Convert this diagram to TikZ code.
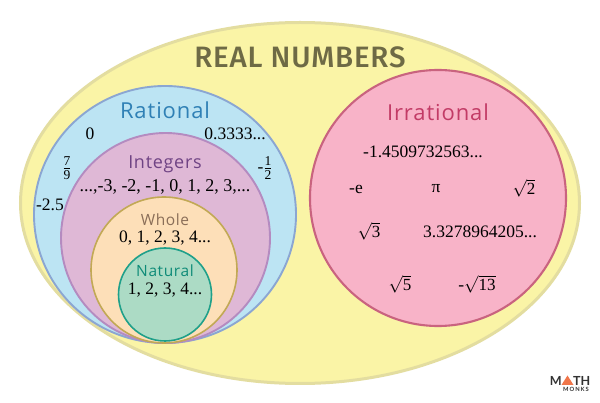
\documentclass[tikz,border=0pt]{standalone}
\usepackage{fontspec}
\setmainfont{Liberation Serif}
\newfontfamily\headfont{Open Sans}[LetterSpace=4]
\newfontfamily\titlefont{Fira Sans Medium}[LetterSpace=2.6]
\newfontfamily\logofont{Lato}
\newcommand{\vals}[1]{\hbox{\fontsize{17}{17}\selectfont #1}}
\newcommand{\fracnum}[1]{\hbox{\fontsize{13.5}{13.5}\selectfont\rule[-1.5pt]{0pt}{0pt}#1}}
\newcommand{\fracden}[1]{\hbox{\fontsize{13.5}{13.5}\selectfont\rule{0pt}{11pt}#1}}
\tikzset{
  x=1pt,y=-1pt,
  setshape/.style={line width=1.6pt},
  outerset/.style={setshape,line width=3pt,draw=outerline,fill=outerfill},
  head/.style={font=\headfont\fontsize{#1}{#1}\selectfont,inner sep=0pt},
  num/.style={font=\fontsize{17.5}{17.5}\selectfont,text=black,inner sep=0pt},
}
\definecolor{outerline}{HTML}{E3DDA0}
\definecolor{outerfill}{HTML}{FAF4A6}
\definecolor{ratline}{HTML}{8BA6D2}
\definecolor{ratfill}{HTML}{BCE4F3}
\definecolor{intline}{HTML}{B48BC0}
\definecolor{intfill}{HTML}{DFB8D6}
\definecolor{wholeline}{HTML}{C2A955}
\definecolor{wholefill}{HTML}{FDDFB8}
\definecolor{natline}{HTML}{1FA08A}
\definecolor{natfill}{HTML}{ACDBC5}
\definecolor{irrline}{HTML}{C9637F}
\definecolor{irrfill}{HTML}{F8B3C8}
\definecolor{titlecol}{HTML}{6E6A45}
\definecolor{ratcol}{HTML}{2F80B5}
\definecolor{intcol}{HTML}{6F4384}
\definecolor{wholecol}{HTML}{8A6E58}
\definecolor{natcol}{HTML}{0E8B78}
\definecolor{irrcol}{HTML}{C23B66}
\definecolor{logoorange}{HTML}{F0764A}
\definecolor{logodark}{HTML}{333333}
\begin{document}
\begin{tikzpicture}
\useasboundingbox (0,0) rectangle (600,403);
\fill[white] (0,0) rectangle (600,403);
\draw[outerset] (300,203) ellipse [x radius=279.5,y radius=180.5];
\draw[setshape,line width=1.9pt,draw=ratline,fill=ratfill] (165,214.5) ellipse [x radius=131,y radius=128.5];
\draw[setshape,line width=1.9pt,draw=intline,fill=intfill] (165.5,238) ellipse [x radius=104.5,y radius=105];
\draw[setshape,draw=wholeline,fill=wholefill] (164,270) ellipse [x radius=73,y radius=73];
\draw[setshape,draw=natline,fill=natfill] (165,294.5) circle [radius=46.5];
\draw[setshape,line width=2.1pt,draw=irrline,fill=irrfill] (438,198) circle [radius=128];

\node[inner sep=0pt,text=titlecol,font=\titlefont\fontsize{29.5}{29.5}\selectfont] (title) at (300,57) {REAL NUMBERS};
\node[head=22,text=ratcol] (rational) at (165,110) {Rational};
\node[head=18,text=intcol] (integers) at (165,164.5) {Integers};
\node[head=15.5,text=wholecol] (whole) at (165,220) {Whole};
\node[head=15.5,text=natcol] (natural) at (165,271) {Natural};
\node[head=22,text=irrcol] (irrational) at (438,112) {Irrational};

\node[num] (zero) at (90,134) {0};
\node[num] (third) at (235,134) {0.3333...};
\node[num] (sevenninths) at (67,168.5) {$\frac{\fracnum{7}}{\fracden{9}}$};
\node[num] (minushalf) at (265,168.5) {-$\frac{\fracnum{1}}{\fracden{2}}$};
\node[num] (minus25) at (50,205) {-2.5};
\node[num,font=\fontsize{18}{18}\selectfont] (intvals) at (165,187) {...,-3, -2, -1, 0, 1, 2, 3,...};
\node[num] (wholevals) at (165,238) {0, 1, 2, 3, 4...};
\node[num] (natvals) at (165,290) {1, 2, 3, 4...};

\node[num] (irr1) at (423,152) {-1.4509732563...};
\node[num] (irr2) at (356,189) {-e};
\node[num] (irr3) at (436,189) {π};
\node[num] (irr4) at (524,188) {$\sqrt{\vals{2}}$};
\node[num] (irr5) at (369,231) {$\sqrt{\vals{3}}$};
\node[num] (irr6) at (480,232) {3.3278964205...};
\node[num] (irr7) at (400,284) {$\sqrt{\vals{5}}$};
\node[num] (irr8) at (477,284) {-$\sqrt{\vals{13}}$};

\node[inner sep=0pt,anchor=east,text=logodark,font=\logofont\bfseries\fontsize{12.5}{12.5}\selectfont] (logoM) at (562,381) {M};
\fill[logoorange] (561.5,385) -- (567.5,375.5) -- (573.5,385) -- cycle;
\node[inner sep=0pt,anchor=west,text=logodark,font=\logofont\bfseries\fontsize{12.5}{12.5}\selectfont] (logoTH) at (573,381) {TH};
\node[inner sep=0pt,text=logodark,font=\logofont\bfseries\fontsize{5.8}{5.8}\selectfont] (logoMonks) at (576,389.5) {M\,O\,N\,K\,S};
\end{tikzpicture}
\end{document}
